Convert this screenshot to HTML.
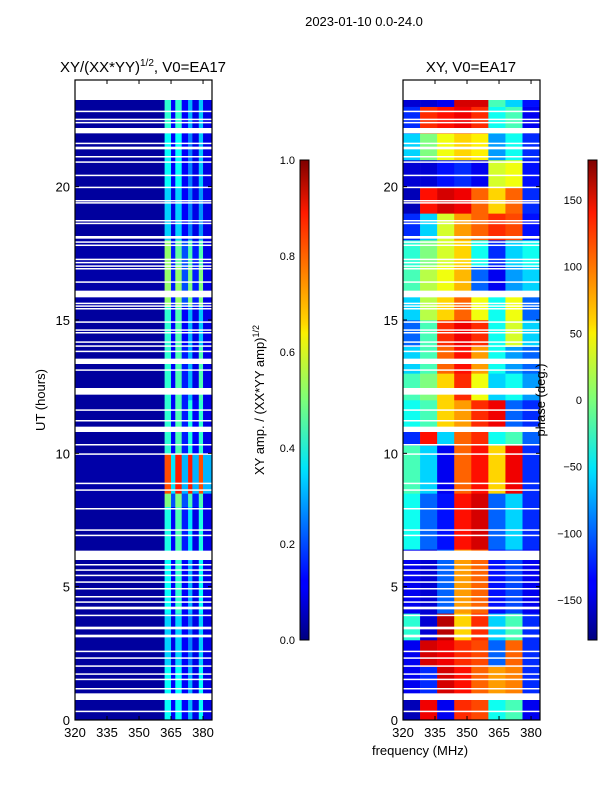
<!DOCTYPE html>
<html><head><meta charset="utf-8"><style>
body{margin:0;background:#fff;}
svg text{font-family:"Liberation Sans",sans-serif;fill:#000;}
</style></head><body>
<svg id="fig" width="600" height="800" xmlns="http://www.w3.org/2000/svg">
<defs>
<linearGradient id="jetv" x1="0" y1="1" x2="0" y2="0">
<stop offset="0" stop-color="#00007f"/><stop offset="0.11" stop-color="#0000ff"/>
<stop offset="0.125" stop-color="#0000ff"/><stop offset="0.34" stop-color="#00d4ff"/>
<stop offset="0.36" stop-color="#00e5f8"/><stop offset="0.5" stop-color="#7cff79"/>
<stop offset="0.64" stop-color="#fbf100"/><stop offset="0.66" stop-color="#ffd700"/>
<stop offset="0.89" stop-color="#ff1a00"/><stop offset="1" stop-color="#7f0000"/>
</linearGradient>
</defs>
<text x="364" y="26" font-size="13" text-anchor="middle">2023-01-10 0.0-24.0</text>
<text x="143" y="72" font-size="15" text-anchor="middle">XY/(XX*YY)<tspan font-size="10" dy="-6">1/2</tspan><tspan dy="6">, V0=EA17</tspan></text>
<text x="471" y="72" font-size="15" text-anchor="middle">XY, V0=EA17</text>
<text transform="translate(45,400) rotate(-90)" font-size="13" text-anchor="middle">UT (hours)</text>
<text x="420" y="755" font-size="13" text-anchor="middle">frequency (MHz)</text>
<g id="left"></g>
<g id="right"></g>
<g id="axes"></g>
<rect x="300" y="160" width="9" height="480" fill="url(#jetv)" stroke="#000" stroke-width="1"/>
<rect x="588" y="160" width="9" height="480" fill="url(#jetv)" stroke="#000" stroke-width="1"/>
<text transform="translate(264,400) rotate(-90)" font-size="13" text-anchor="middle">XY amp. / (XX*YY amp)<tspan font-size="9" dy="-5">1/2</tspan></text>
<text transform="translate(545,400) rotate(-90)" font-size="13" text-anchor="middle">phase (deg.)</text>
</svg>
<script>
const ampCbTicks=[0,0.2,0.4,0.6,0.8,1.0];
const phaseCbTicks=[-150,-100,-50,0,50,100,150];
const hourTicks=[0,5,10,15,20];
const freqTicks=[320,335,350,365,380];
const ampTimeEdges=[0,2,4,6,8,8.5,10,12,14,15.5,17,18,20,22,24];
const ampFreqEdges=[320,362,365,367,370,373,375,378,380,384.2];
const ampValues=[
[0.03,0.38,0.12,0.38,0.12,0.30,0.10,0.38,0.10],
[0.03,0.33,0.10,0.33,0.12,0.25,0.10,0.33,0.10],
[0.03,0.38,0.12,0.42,0.12,0.30,0.10,0.38,0.10],
[0.03,0.40,0.12,0.45,0.15,0.35,0.10,0.40,0.10],
[0.04,0.50,0.20,0.50,0.20,0.45,0.15,0.45,0.10],
[0.04,0.80,0.35,0.85,0.30,0.85,0.30,0.80,0.30],
[0.03,0.42,0.12,0.45,0.15,0.40,0.12,0.42,0.10],
[0.03,0.42,0.12,0.45,0.15,0.30,0.10,0.45,0.10],
[0.03,0.42,0.12,0.45,0.12,0.30,0.10,0.32,0.10],
[0.04,0.52,0.15,0.52,0.20,0.50,0.15,0.50,0.10],
[0.04,0.52,0.15,0.47,0.20,0.45,0.15,0.45,0.10],
[0.03,0.33,0.10,0.33,0.12,0.25,0.10,0.27,0.10],
[0.03,0.38,0.12,0.38,0.12,0.25,0.10,0.32,0.10],
[0.03,0.42,0.12,0.42,0.12,0.30,0.10,0.32,0.10]];
const phTimeEdges=[0,1,2,3,4,6,6.4,8.5,10.3,11,12,13,14,15,16,17,18,19,20,21,22,23,24];
const phFreqEdges=[320,328,336,344,352,360,368,376,384.2];
const phValues=[
[-160,140,-140,120,110,-40,-20,-140],
[-140,-120,150,130,100,80,90,-120],
[-140,150,140,120,110,-100,100,-120],
[-30,-150,160,60,120,-60,-20,-120],
[-140,-150,-100,80,100,-130,-110,-140],
[-140,-150,-100,80,100,-130,-110,-140],
[-40,-100,-130,130,150,-100,-60,-120],
[-20,-60,-140,100,130,60,140,-120],
[-120,130,-60,100,120,-40,-20,-100],
[-40,-20,60,80,120,140,-100,-120],
[-20,0,60,120,40,-60,-40,-80],
[-60,-20,100,130,80,-40,-80,-100],
[-100,-20,120,140,120,-40,30,-60],
[-60,20,60,100,40,-40,40,-100],
[-20,20,40,70,-100,-140,-80,-60],
[-30,0,30,60,-40,-120,-60,-40],
[-120,-60,30,80,100,120,110,-130],
[-160,130,150,140,100,60,100,-120],
[-150,-150,-130,-120,-140,30,40,-130],
[-60,0,40,60,50,-80,-40,-120],
[-120,120,130,140,120,-40,-20,-140],
[-150,-150,-140,150,150,-20,-60,-130]];
const gaps=[[23.25,24],[22.8,22.85],[22.5,22.55],[22.38,22.43],[22.0,22.2],[21.6,21.65],[21.4,21.5],[21.1,21.15],[20.9,20.95],[20.4,20.45],[19.95,20.0],[19.45,19.5],[19.37,19.42],[18.7,18.75],[18.6,18.65],[18.05,18.15],[17.9,17.95],[17.78,17.83],[17.25,17.3],[17.13,17.18],[17.0,17.05],[16.9,16.95],[16.4,16.45],[15.85,16.1],[15.6,15.65],[15.5,15.55],[15.4,15.45],[14.9,14.95],[14.6,14.65],[14.5,14.55],[14.15,14.2],[14.0,14.05],[13.8,13.85],[13.35,13.55],[13.1,13.15],[12.2,12.45],[11.6,11.65],[11.2,11.25],[10.8,11.0],[10.3,10.35],[9.95,10.0],[8.85,8.9],[8.6,8.65],[7.9,7.95],[7.1,7.15],[6.9,6.95],[6.0,6.35],[5.8,5.85],[5.6,5.65],[5.4,5.45],[5.15,5.2],[4.9,4.95],[4.6,4.65],[4.4,4.45],[4.15,4.25],[3.9,3.95],[3.4,3.5],[3.1,3.2],[2.55,2.6],[2.3,2.35],[2.0,2.05],[1.7,1.75],[1.5,1.55],[1.15,1.2],[0.75,1.0],[0.3,0.35]];

const NS="http://www.w3.org/2000/svg";
const Y0=720,Y1=80;
function yS(h){return Y0-(h/24)*(Y0-Y1);}
function xS(f,x0){return x0+(f-320)*(137/64.2);}
function jet(v){v=Math.max(0,Math.min(1,v));
 function c(x){return Math.max(0,Math.min(1,x));}
 const r=c(1.5-Math.abs(4*v-3)),g=c(1.5-Math.abs(4*v-2)),b=c(1.5-Math.abs(4*v-1));
 return `rgb(${Math.round(r*255)},${Math.round(g*255)},${Math.round(b*255)})`;}
function rect(p,x,y,w,h,fill){const r=document.createElementNS(NS,'rect');
 r.setAttribute('x',x);r.setAttribute('y',y);r.setAttribute('width',w);r.setAttribute('height',h);r.setAttribute('fill',fill);p.appendChild(r);return r;}
function drawHeat(gid,x0,tE,fE,vals,norm){
 const g=document.getElementById(gid);
 for(let i=0;i<vals.length;i++)for(let j=0;j<vals[i].length;j++){
  const xa=xS(fE[j],x0),xb=xS(fE[j+1],x0),ya=yS(tE[i+1]),yb=yS(tE[i]);
  const r=rect(g,xa,ya,xb-xa+0.3,yb-ya+0.3,jet(norm(vals[i][j])));
  
  
 }
 for(const gp of gaps){const ya=yS(gp[1]),yb=yS(gp[0]);
  const r=rect(g,x0,ya,137,Math.max(1.5,yb-ya),'#fff');
  
  }
}
drawHeat('left',75,ampTimeEdges,ampFreqEdges,ampValues,v=>v);
drawHeat('right',403,phTimeEdges,phFreqEdges,phValues,v=>(v+180)/360);

const ax=document.getElementById('axes');
function line(x1,y1,x2,y2,w){const l=document.createElementNS(NS,'line');
 l.setAttribute('x1',x1);l.setAttribute('y1',y1);l.setAttribute('x2',x2);l.setAttribute('y2',y2);
 l.setAttribute('stroke','#000');l.setAttribute('stroke-width',w||1);ax.appendChild(l);return l;}
function text(x,y,s,anchor,size){const t=document.createElementNS(NS,'text');
 t.setAttribute('x',x);t.setAttribute('y',y);t.setAttribute('font-size',size||13);t.setAttribute('text-anchor',anchor);t.textContent=s;ax.appendChild(t);return t;}
for(const x0 of [75,403]){
 const fr=document.createElementNS(NS,'rect');
 fr.setAttribute('x',x0);fr.setAttribute('y',80);fr.setAttribute('width',137);fr.setAttribute('height',640);
 fr.setAttribute('fill','none');fr.setAttribute('stroke','#000');fr.setAttribute('stroke-width',1.2);
 
 
 ax.appendChild(fr);
 for(const h of hourTicks){const y=yS(h);line(x0,y,x0+4,y);line(x0+137,y,x0+133,y);
  const t=text(x0-5,y+5,String(h),'end');
  
  }
 for(const f of freqTicks){const x=xS(f,x0);line(x,720,x,716);line(x,80,x,84);
  const t=text(x,737,String(f),'middle');
  
  }
}
for(const v of ampCbTicks){const y=640-v*480;line(300,y,304,y);line(309,y,305,y);
 const t=text(295,y+4,v.toFixed(1),'end',11);
 
 }
for(const v of phaseCbTicks){const y=640-(v+180)/360*480;line(588,y,592,y);line(597,y,593,y);
 const t=text(582,y+4,v<0?'\u2212'+(-v):String(v),'end',11);
 
 }
</script>
</body></html>
